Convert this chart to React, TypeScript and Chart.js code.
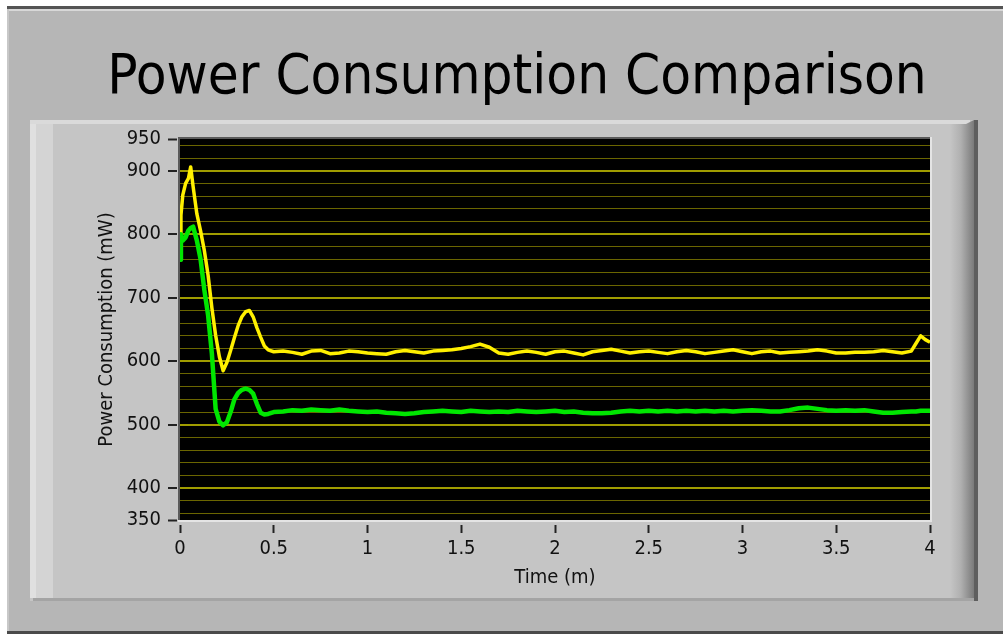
import React, { useEffect, useRef } from 'react';
import { Chart, registerables } from 'chart.js';

Chart.register(...registerables);

const FONT = "'DejaVu Sans Condensed', 'DejaVu Sans', sans-serif";

const TITLE = 'Power Consumption Comparison';
const X_TITLE = 'Time (m)';
const Y_TITLE = 'Power Consumption (mW)';

// time in minutes
const TIME = [
  0, 0.005, 0.015, 0.03, 0.045, 0.057, 0.07, 0.09, 0.11, 0.13,
  0.15, 0.17, 0.19, 0.21, 0.23, 0.25, 0.27, 0.29, 0.31, 0.33,
  0.35, 0.37, 0.39, 0.41, 0.43, 0.45, 0.47, 0.5,
  0.55, 0.6, 0.65, 0.7, 0.75, 0.8, 0.85, 0.9, 0.95, 1.0,
  1.05, 1.1, 1.15, 1.2, 1.25, 1.3, 1.35, 1.4, 1.45, 1.5,
  1.55, 1.6, 1.65, 1.7, 1.75, 1.8, 1.85, 1.9, 1.95, 2.0,
  2.05, 2.1, 2.15, 2.2, 2.25, 2.3, 2.35, 2.4, 2.45, 2.5,
  2.55, 2.6, 2.65, 2.7, 2.75, 2.8, 2.85, 2.9, 2.95, 3.0,
  3.05, 3.1, 3.15, 3.2, 3.25, 3.3, 3.35, 3.4, 3.45, 3.5,
  3.55, 3.6, 3.65, 3.7, 3.75, 3.8, 3.85, 3.9,
  3.925, 3.95, 3.975, 4.0,
];

// yellow trace (mW)
const YELLOW = [
  760, 830, 862, 880, 888, 906, 875, 832, 805, 774,
  735, 684, 641, 607, 585, 598, 617, 637, 656, 670,
  678, 680, 670, 653, 638, 624, 618, 615,
  616, 614, 611, 616, 617, 612, 613, 616, 615, 613,
  612, 611, 615, 617, 615, 613, 616, 617, 618, 620,
  623, 627, 622, 613, 611, 614, 616, 614, 611, 615,
  616, 613, 610, 615, 617, 619, 616, 613, 615, 616,
  614, 612, 615, 617, 615, 612, 614, 616, 618, 615,
  612, 615, 616, 613, 614, 615, 616, 618, 616, 613,
  613, 614, 614, 615, 617, 615, 613, 616,
  628, 640, 634, 630,
];

// green trace (mW)
const GREEN = [
  760, 800, 790, 795, 806, 810, 812, 790, 760, 712,
  672, 612, 525, 505, 499, 504, 520, 540, 550, 555,
  557, 555, 549, 533, 519, 516, 517, 520,
  521, 523, 522, 524, 523, 522, 524, 522, 521, 520,
  521, 519, 518, 517, 518, 520, 521, 522, 521, 520,
  522, 521, 520, 521, 520, 522, 521, 520, 521, 522,
  520, 521, 519, 518, 518, 519, 521, 522, 521, 522,
  521, 522, 521, 522, 521, 522, 521, 522, 521, 522,
  523, 522, 521, 521, 523, 526, 527, 525, 523, 522,
  523, 522, 523, 521, 519, 519, 520, 521,
  521, 522, 522, 522,
];

const X_MIN = 0;
const X_MAX = 4;
const X_STEP = 0.5;
const Y_MIN = 350;
const Y_MAX = 950;
const Y_LABELS = [350, 400, 500, 600, 700, 800, 900, 950];
const Y_MAJOR = [400, 500, 600, 700, 800, 900];
const Y_GRID = [
  350, 360, 380, 400, 420, 440, 460, 480, 500, 520, 540, 560, 580, 600,
  620, 640, 660, 680, 700, 720, 740, 760, 780, 800, 820, 840, 860, 880,
  900, 920, 940, 950,
];

const YELLOW_COLOR = '#fff000';
const GREEN_COLOR = '#00e600';
const GRID_MAJOR = '#a09c00';
const GRID_MINOR = '#6a6500';
const TEXT = '#111111';

const framePlugin = {
  id: 'lvframe',
  beforeDraw(chart: any) {
    const ctx = chart.ctx as CanvasRenderingContext2D;
    const a = chart.chartArea;
    const W = chart.width;
    const H = chart.height;
    ctx.save();
    ctx.fillStyle = '#ffffff';
    ctx.fillRect(0, 0, W, H);
    // outer panel
    ctx.fillStyle = '#b6b6b6';
    ctx.fillRect(7, 6, W - 7, H - 6);
    ctx.fillStyle = '#545454';
    ctx.fillRect(7, 6, W - 7, 3);
    ctx.fillStyle = '#d8d8d8';
    ctx.fillRect(9, 9, W - 9, 2);
    ctx.fillStyle = '#c8c8c8';
    ctx.fillRect(7, 9, 2, H - 12);
    ctx.fillStyle = '#4a4a4a';
    ctx.fillRect(7, H - 3, W - 7, 3);
    // inner raised panel
    const x0 = 30, y0 = 120, x1 = 978, y1 = 601;
    ctx.fillStyle = '#c5c5c5';
    ctx.fillRect(x0, y0, x1 - x0, y1 - y0);
    ctx.fillStyle = '#d4d4d4';
    ctx.fillRect(x0, y0, 23, y1 - y0 - 3);
    ctx.fillStyle = '#e0e0e0';
    ctx.fillRect(x0, y0, 6, y1 - y0 - 3);
    ctx.fillStyle = '#dadada';
    ctx.fillRect(x0, y0, x1 - x0 - 8, 4);
    const g = ctx.createLinearGradient(950, 0, 974, 0);
    g.addColorStop(0, '#c5c5c5');
    g.addColorStop(0.45, '#b0b0b0');
    g.addColorStop(1, '#7a7a7a');
    ctx.fillStyle = g;
    ctx.beginPath();
    ctx.moveTo(950, y0 + 4);
    ctx.lineTo(966, y0 + 4);
    ctx.lineTo(974, y0);
    ctx.lineTo(974, y1);
    ctx.lineTo(950, y1);
    ctx.closePath();
    ctx.fill();
    ctx.fillStyle = '#5e5e5e';
    ctx.fillRect(974, y0, 4, y1 - y0);
    ctx.fillStyle = '#a4a4a4';
    ctx.fillRect(x0 + 3, y1 - 3, x1 - x0 - 7, 3);
    // plot background
    ctx.fillStyle = '#000000';
    ctx.fillRect(a.left, a.top, a.right - a.left, a.bottom - a.top);
    ctx.restore();
  },
  afterDraw(chart: any) {
    const ctx = chart.ctx as CanvasRenderingContext2D;
    const a = chart.chartArea;
    ctx.save();
    ctx.fillStyle = '#e4e4e4';
    ctx.fillRect(a.left - 2, a.bottom, a.right - a.left + 4, 2);
    ctx.fillRect(a.right, a.top - 2, 2, a.bottom - a.top + 4);
    ctx.fillStyle = '#5a5a5a';
    ctx.fillRect(a.left - 2, a.top - 2, a.right - a.left + 2, 2);
    ctx.fillRect(a.left - 2, a.top - 2, 2, a.bottom - a.top + 2);
    ctx.restore();
  },
};

export default function App() {
  const ref = useRef<HTMLCanvasElement>(null);

  useEffect(() => {
    document.body.style.margin = '0';
    const canvas = ref.current;
    if (!canvas) return;
    const chart = new Chart(canvas, {
      type: 'line',
      data: {
        datasets: [
          {
            label: 'Green',
            data: TIME.map((t, i) => ({ x: t, y: GREEN[i] })),
            borderColor: GREEN_COLOR,
            borderWidth: 4.5,
            pointRadius: 0,
            tension: 0,
            borderJoinStyle: 'round',
          },
          {
            label: 'Yellow',
            data: TIME.map((t, i) => ({ x: t, y: YELLOW[i] })),
            borderColor: YELLOW_COLOR,
            borderWidth: 3.5,
            pointRadius: 0,
            tension: 0,
            borderJoinStyle: 'round',
          },
        ],
      },
      options: {
        responsive: false,
        animation: false,
        devicePixelRatio: 1,
        layout: { padding: { left: 92, right: 73, top: 139, bottom: 34 } },
        plugins: {
          legend: { display: false },
          tooltip: { enabled: false },
          title: { display: false },
        },
        scales: {
          x: {
            type: 'linear',
            min: X_MIN,
            max: X_MAX,
            ticks: {
              stepSize: X_STEP,
              autoSkip: false,
              maxRotation: 0,
              color: TEXT,
              font: { family: FONT, size: 20 },
              padding: 4,
              callback: (v: any) => String(Number(v)),
            },
            grid: {
              drawOnChartArea: false,
              drawTicks: true,
              tickLength: 13,
              tickColor: '#222222',
              tickWidth: 2,
              tickBorderDash: [8, 30],
              tickBorderDashOffset: 33,
            },
            border: { display: false },
            title: {
              display: true,
              text: X_TITLE,
              color: TEXT,
              font: { family: FONT, size: 20 },
              padding: { top: 0, bottom: 10 },
            },
            afterFit: (s: any) => {
              s.height = 80;
            },
          },
          y: {
            type: 'linear',
            min: Y_MIN,
            max: Y_MAX,
            afterBuildTicks: (s: any) => {
              s.ticks = Y_GRID.map((v) => ({ value: v }));
            },
            ticks: {
              autoSkip: false,
              color: TEXT,
              font: { family: FONT, size: 20 },
              padding: 7,
              callback: (v: any) => (Y_LABELS.includes(Number(v)) ? String(v) : ''),
            },
            grid: {
              color: (c: any) => {
                const v = c.tick ? c.tick.value : null;
                if (v === Y_MIN || v === Y_MAX) return 'rgba(0,0,0,0)';
                return Y_MAJOR.includes(v) ? GRID_MAJOR : GRID_MINOR;
              },
              lineWidth: (c: any) => (c.tick && Y_MAJOR.includes(c.tick.value) ? 2 : 1),
              drawTicks: true,
              tickLength: 12,
              tickColor: (c: any) =>
                c.tick && Y_LABELS.includes(c.tick.value) ? '#222222' : 'rgba(0,0,0,0)',
              tickWidth: 2,
              tickBorderDash: [9, 30],
              tickBorderDashOffset: 0,
            },
            border: { display: false },
            title: {
              display: true,
              text: Y_TITLE,
              color: TEXT,
              font: { family: FONT, size: 20 },
              padding: { top: 3, bottom: 0 },
            },
            afterFit: (s: any) => {
              s.width = 88;
            },
          },
        },
      } as any,
      plugins: [framePlugin],
    });
    return () => chart.destroy();
  }, []);

  return (
    <div style={{ position: 'absolute', left: 0, top: 0, width: 1003, height: 634, overflow: 'hidden' }}>
      <canvas ref={ref} width={1003} height={634} style={{ display: 'block', width: 1003, height: 634 }} />
      <div
        style={{
          position: 'absolute',
          left: 0,
          top: 46,
          width: 1003,
          boxSizing: 'border-box',
          paddingLeft: 31,
          textAlign: 'center',
          fontFamily: FONT,
          fontSize: 56,
          lineHeight: '56px',
          color: '#000000',
          whiteSpace: 'nowrap',
        }}
      >
        {TITLE}
      </div>
    </div>
  );
}
